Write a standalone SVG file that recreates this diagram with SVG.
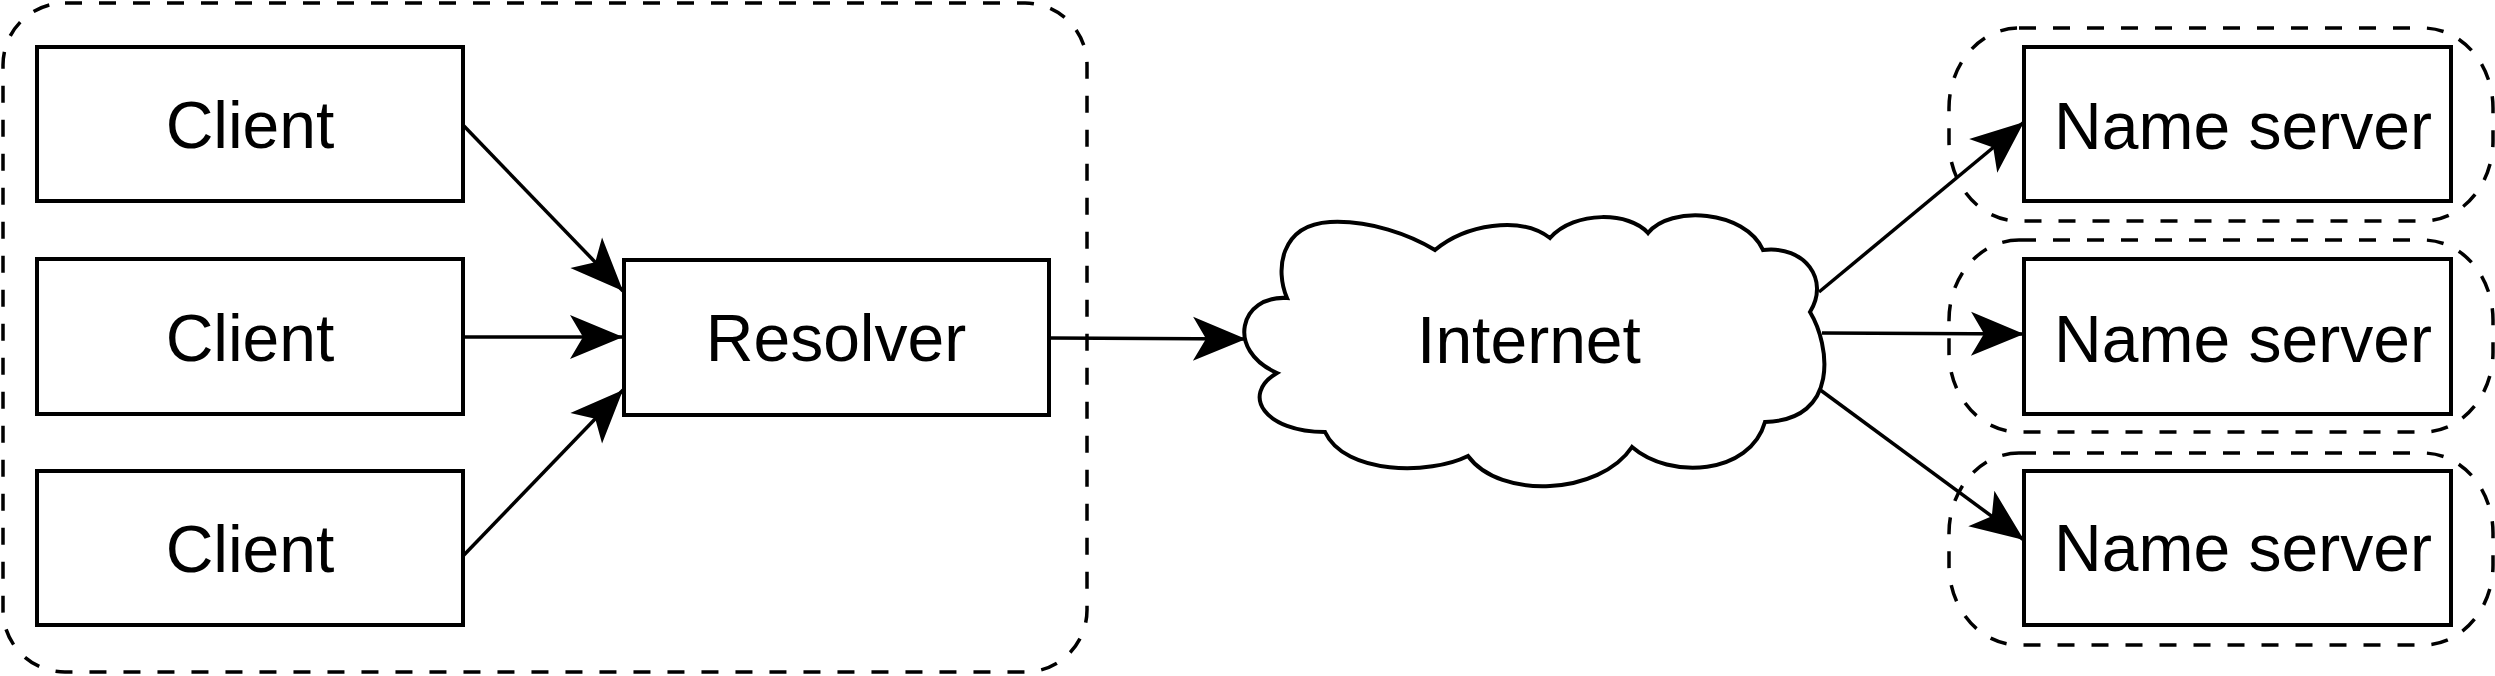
<svg xmlns="http://www.w3.org/2000/svg" width="2495" height="676" viewBox="0 0 2495 676">
<style>
.box{fill:#fff;stroke:#000;stroke-width:4}
.grp{fill:none;stroke:#000;stroke-width:3.5;stroke-dasharray:17 17}
.lbl{font-family:"Liberation Sans",Arial,sans-serif;font-size:66px;fill:#000;text-anchor:middle}
.edge{fill:none;stroke:#000;stroke-width:3.5}
</style>
<defs>
<marker id="arr" markerUnits="userSpaceOnUse" viewBox="-56 -26 60 52" markerWidth="60" markerHeight="52" refX="0" refY="0" orient="auto">
<path d="M0,0 L-53,-22 L-40,0 L-53,22 Z" fill="#000"/>
</marker>
</defs>
<g id="resolver-site">
<rect x="3" y="3" width="1084" height="669" rx="62" ry="62" class="grp"/>
</g>
<g id="ns-group-1"><rect x="1949" y="28" width="544" height="193" rx="70" ry="80" class="grp"/></g>
<g id="ns-group-2"><rect x="1949" y="240" width="544" height="192" rx="70" ry="80" class="grp"/></g>
<g id="ns-group-3"><rect x="1949" y="453" width="544" height="192" rx="70" ry="80" class="grp"/></g>
<g id="connectors">
<line x1="463" y1="125" x2="623" y2="291" class="edge" marker-end="url(#arr)"/>
<line x1="463" y1="337" x2="623" y2="337" class="edge" marker-end="url(#arr)"/>
<line x1="463" y1="556" x2="623" y2="390" class="edge" marker-end="url(#arr)"/>
<line x1="1050" y1="338" x2="1246" y2="339" class="edge" marker-end="url(#arr)"/>
<line x1="1819" y1="292" x2="2024" y2="122" class="edge" marker-end="url(#arr)"/>
<line x1="1822" y1="333" x2="2024" y2="334" class="edge" marker-end="url(#arr)"/>
<line x1="1819" y1="389" x2="2024" y2="540" class="edge" marker-end="url(#arr)"/>
</g>
<g id="client-1"><rect x="37" y="47" width="426" height="154" class="box"/><text x="250" y="148" class="lbl">Client</text></g>
<g id="client-2"><rect x="37" y="259" width="426" height="155" class="box"/><text x="250" y="361" class="lbl">Client</text></g>
<g id="client-3"><rect x="37" y="471" width="426" height="154" class="box"/><text x="250" y="572" class="lbl">Client</text></g>
<g id="resolver"><rect x="624" y="260" width="425" height="155" class="box"/><text x="836" y="361" class="lbl">Resolver</text></g>
<g id="internet">
<path class="box" d="M1287 298 C1275 270 1280 225 1330 222 C1370 220 1410 235 1435 250 C1465 225 1520 215 1550 238 C1575 210 1630 212 1648 233 C1670 205 1745 210 1763 250 C1805 245 1830 280 1810 312 C1830 345 1840 420 1765 422 C1750 475 1670 480 1632 447 C1600 495 1500 500 1468 456 C1430 475 1345 475 1325 432 C1265 432 1240 395 1277 373 C1225 350 1240 295 1287 298 Z"/>
<text x="1529" y="363" class="lbl">Internet</text>
</g>
<g id="name-server-1"><rect x="2024" y="47" width="427" height="154" class="box"/><text x="2243" y="149" class="lbl">Name server</text></g>
<g id="name-server-2"><rect x="2024" y="259" width="427" height="155" class="box"/><text x="2243" y="362" class="lbl">Name server</text></g>
<g id="name-server-3"><rect x="2024" y="471" width="427" height="154" class="box"/><text x="2243" y="571" class="lbl">Name server</text></g>
</svg>
